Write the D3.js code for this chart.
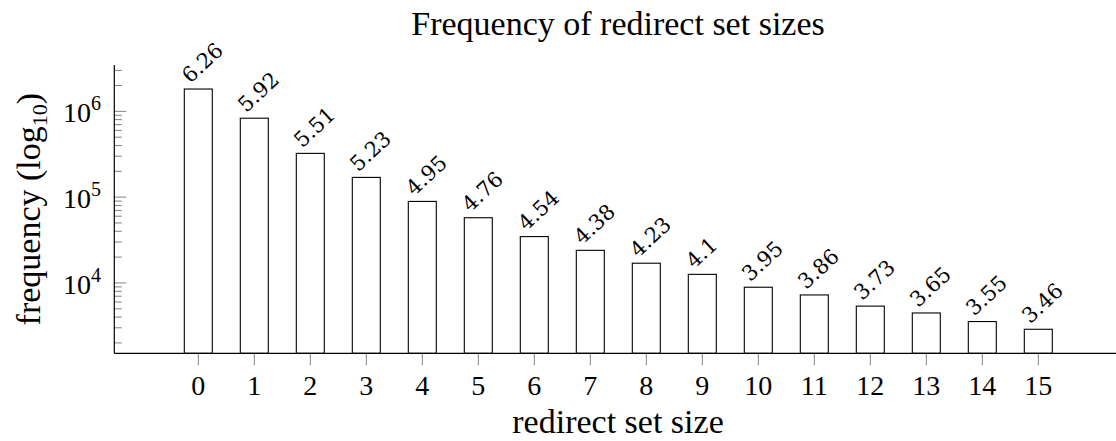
<!DOCTYPE html>
<html>
<head>
<meta charset="utf-8">
<script src="https://cdn.jsdelivr.net/npm/d3@7"></script>
<style>
  body { margin: 0; background: #fff; }
  svg text { font-family: "Liberation Serif", "Times New Roman", serif; fill: #000; }
  svg text.barlabel { font-family: "DejaVu Serif", serif; }
</style>
</head>
<body>
<div id="chart"></div>
<script>
// redirect set sizes (x categories)
var setSizes = [0, 1, 2, 3, 4, 5, 6, 7, 8, 9, 10, 11, 12, 13, 14, 15];
// log10 of the frequency, as printed above each bar
var logFreq = [6.26, 5.92, 5.51, 5.23, 4.95, 4.76, 4.54, 4.38, 4.23, 4.1, 3.95, 3.86, 3.73, 3.65, 3.55, 3.46];
// y axis major tick exponents
var yExponents = [4, 5, 6];

var width = 1116, height = 441;
// note: "top" is reserved on window, so use plotTop etc.
var plotLeft = 114.3, plotRight = 1122.3, plotTop = 65, plotBottom = 353.3;

var svg = d3.select("#chart").append("svg")
  .attr("width", width)
  .attr("height", height);

var x = d3.scaleLinear().domain([-1.5, 16.5]).range([plotLeft, plotRight]);
var y = d3.scaleLog().domain([Math.pow(10, 3.18), Math.pow(10, 6.54)]).range([plotBottom, plotTop]);
var barW = 28;

function isMajor(d) {
  var l = Math.log10(d);
  return Math.abs(l - Math.round(l)) < 1e-9;
}

// ticks on y, minor ones every 1..9 of each decade
var yTicks = y.ticks();
svg.append("g").selectAll("line").data(yTicks)
  .enter().append("line")
    .attr("x1", plotLeft)
    .attr("x2", function(d) { return isMajor(d) ? plotLeft + 12 : plotLeft + 7.5; })
    .attr("y1", function(d) { return y(d); })
    .attr("y2", function(d) { return y(d); })
    .attr("stroke", "#808080")
    .attr("stroke-width", 1);

// x ticks below the axis
svg.append("g").selectAll("line").data(setSizes)
  .enter().append("line")
    .attr("x1", function(d) { return x(d); })
    .attr("x2", function(d) { return x(d); })
    .attr("y1", plotBottom)
    .attr("y2", plotBottom + 12)
    .attr("stroke", "#808080")
    .attr("stroke-width", 1);

// bars
svg.append("g").selectAll("rect").data(setSizes)
  .enter().append("rect")
    .attr("x", function(d) { return x(d) - barW / 2; })
    .attr("y", function(d, i) { return y(Math.pow(10, logFreq[i])); })
    .attr("width", barW)
    .attr("height", function(d, i) { return plotBottom - y(Math.pow(10, logFreq[i])); })
    .attr("fill", "#fff")
    .attr("stroke", "#000")
    .attr("stroke-width", 1.1);

// axis lines (left + bottom only)
svg.append("line")
  .attr("x1", plotLeft).attr("x2", plotLeft).attr("y1", plotTop).attr("y2", plotBottom)
  .attr("stroke", "#000").attr("stroke-width", 1.2);
svg.append("line")
  .attr("x1", plotLeft).attr("x2", plotRight).attr("y1", plotBottom).attr("y2", plotBottom)
  .attr("stroke", "#000").attr("stroke-width", 1.2);

// bar value labels, rotated
svg.append("g").selectAll("text").data(setSizes)
  .enter().append("text")
    .attr("class", "barlabel")
    .attr("transform", function(d, i) {
      return "translate(" + (x(d) - 8) + "," + (y(Math.pow(10, logFreq[i])) - 5) + ") rotate(-43)";
    })
    .style("font-size", "21px")
    .text(function(d, i) { return logFreq[i]; });

// x tick labels
svg.append("g").selectAll("text").data(setSizes)
  .enter().append("text")
    .attr("x", function(d) { return x(d); })
    .attr("y", 395)
    .attr("text-anchor", "middle")
    .style("font-size", "28px")
    .text(function(d) { return d; });

// y tick labels 10^k
var yl = svg.append("g").selectAll("text").data(yExponents)
  .enter().append("text")
    .attr("x", 101)
    .attr("y", function(d) { return y(Math.pow(10, d)) + 11; })
    .attr("text-anchor", "end")
    .style("font-size", "28px");
yl.append("tspan").text("10");
yl.append("tspan")
  .attr("dy", -12)
  .style("font-size", "20px")
  .text(function(d) { return d; });

// title
svg.append("text")
  .attr("x", 618)
  .attr("y", 35)
  .attr("text-anchor", "middle")
  .style("font-size", "34px")
  .text("Frequency of redirect set sizes");

// x axis label
svg.append("text")
  .attr("x", 618)
  .attr("y", 433)
  .attr("text-anchor", "middle")
  .style("font-size", "34px")
  .text("redirect set size");

// y axis label
var ylab = svg.append("text")
  .attr("transform", "translate(40," + ((plotTop + plotBottom) / 2) + ") rotate(-90)")
  .attr("text-anchor", "middle")
  .style("font-size", "34px");
ylab.append("tspan").text("frequency (log");
ylab.append("tspan").attr("dy", 7).style("font-size", "22px").text("10");
ylab.append("tspan").attr("dy", -7).text(")");
</script>
</body>
</html>
